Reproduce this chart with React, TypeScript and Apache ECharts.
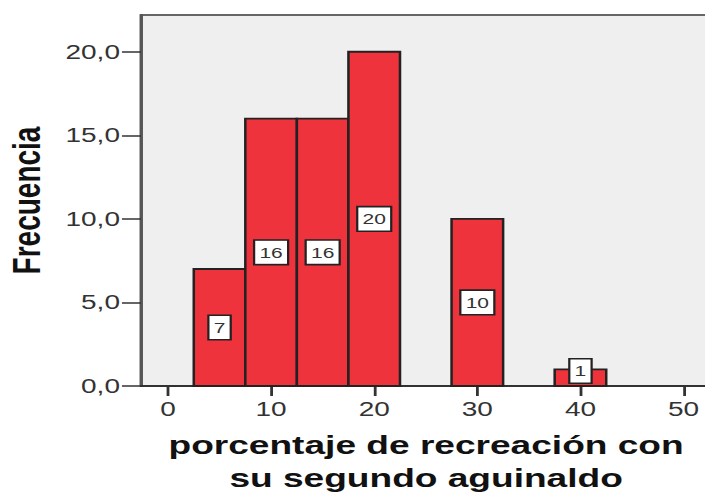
import React, { useEffect, useRef } from "react";
import * as echarts from "echarts";

// Histogram bins: lower edge, upper edge, frequency
const binLow = [2.5, 7.5, 12.5, 17.5, 27.5, 37.5];
const binHigh = [7.5, 12.5, 17.5, 22.5, 32.5, 42.5];
const frequencies = [7, 16, 16, 20, 10, 1];
const xTicks = [0, 10, 20, 30, 40, 50];
const yTicks = [0, 5, 10, 15, 20];
const xTitle = "porcentaje de recreación con\nsu segundo aguinaldo";
const yTitle = "Frecuencia";

const SX = 1.4;
const W = 705 / SX;
const H = 493;
const FONT = "'Liberation Sans', Arial, sans-serif";

export default function App() {
  const ref = useRef<HTMLDivElement>(null);
  useEffect(() => {
    if (!ref.current) return;
    const chart = echarts.init(ref.current, undefined, { renderer: "svg" });
    const data = frequencies.map((f, i) => [binLow[i], binHigh[i], f]);
    chart.setOption({
      animation: false,
      backgroundColor: "#ffffff",
      grid: {
        left: 100.7,
        right: -4,
        top: 15,
        bottom: 107,
        outerBoundsMode: "none",
        containLabel: false,
        show: true,
        backgroundColor: "#EFEFEF",
        borderColor: "#666666",
        borderWidth: 2,
      },
      xAxis: {
        type: "value",
        min: -2.62,
        max: 52.68,
        name: xTitle,
        nameLocation: "middle",
        nameGap: 42,
        nameTextStyle: {
          fontFamily: FONT,
          fontSize: 26.5,
          fontWeight: "bold",
          color: "#111",
          lineHeight: 33,
        },
        axisLine: { show: true, onZero: false, lineStyle: { color: "#222", width: 1.5 } },
        axisTick: { show: true, length: 10, customValues: xTicks, lineStyle: { color: "#333", width: 2 } },
        axisLabel: {
          customValues: xTicks,
          margin: 13,
          fontFamily: FONT,
          fontSize: 20,
          color: "#333333",
        },
        splitLine: { show: false },
      },
      yAxis: {
        type: "value",
        min: 0,
        max: 22.2,
        name: yTitle,
        nameLocation: "middle",
        nameGap: 68,
        nameTextStyle: {
          fontFamily: FONT,
          fontSize: 28,
          fontWeight: "bold",
          color: "#111",
        },
        axisLine: { show: true, onZero: false, lineStyle: { color: "#555", width: 2.2 } },
        axisTick: { show: true, length: 13.6, customValues: yTicks, lineStyle: { color: "#333", width: 1.5 } },
        axisLabel: {
          customValues: yTicks,
          margin: 15,
          fontFamily: FONT,
          fontSize: 20,
          color: "#333333",
          formatter: (v: number) => v.toFixed(1).replace(".", ","),
        },
        splitLine: { show: false },
      },
      series: [
        {
          type: "custom",
          data,
          encode: { x: [0, 1], y: 2 },
          renderItem: (params: any, api: any) => {
            const lo = api.value(0);
            const hi = api.value(1);
            const f = api.value(2);
            const p1 = api.coord([lo, f]);
            const p2 = api.coord([hi, 0]);
            const midY = Math.min((p1[1] + p2[1]) / 2, p2[1] - 15);
            return {
              type: "group",
              children: [
                {
                  type: "rect",
                  shape: { x: p1[0], y: p1[1], width: p2[0] - p1[0], height: p2[1] - p1[1] },
                  style: { fill: "#EE333D", stroke: "#222222", lineWidth: 1.8 },
                },
                {
                  type: "text",
                  x: (p1[0] + p2[0]) / 2,
                  y: midY,
                  style: {
                    text: String(f),
                    fontFamily: FONT,
                    fontSize: 15,
                    fill: "#333",
                    align: "center",
                    verticalAlign: "middle",
                    backgroundColor: "#ffffff",
                    borderColor: "#222",
                    borderWidth: 1.6,
                    padding: [4, 3, 4, 3],
                  },
                },
              ],
            };
          },
        },
      ],
    });
    return () => chart.dispose();
  }, []);
  return (
    <div
      ref={ref}
      style={{
        position: "absolute",
        left: 0,
        top: 0,
        width: W,
        height: H,
        transform: `scaleX(${SX})`,
        transformOrigin: "0 0",
      }}
    />
  );
}
